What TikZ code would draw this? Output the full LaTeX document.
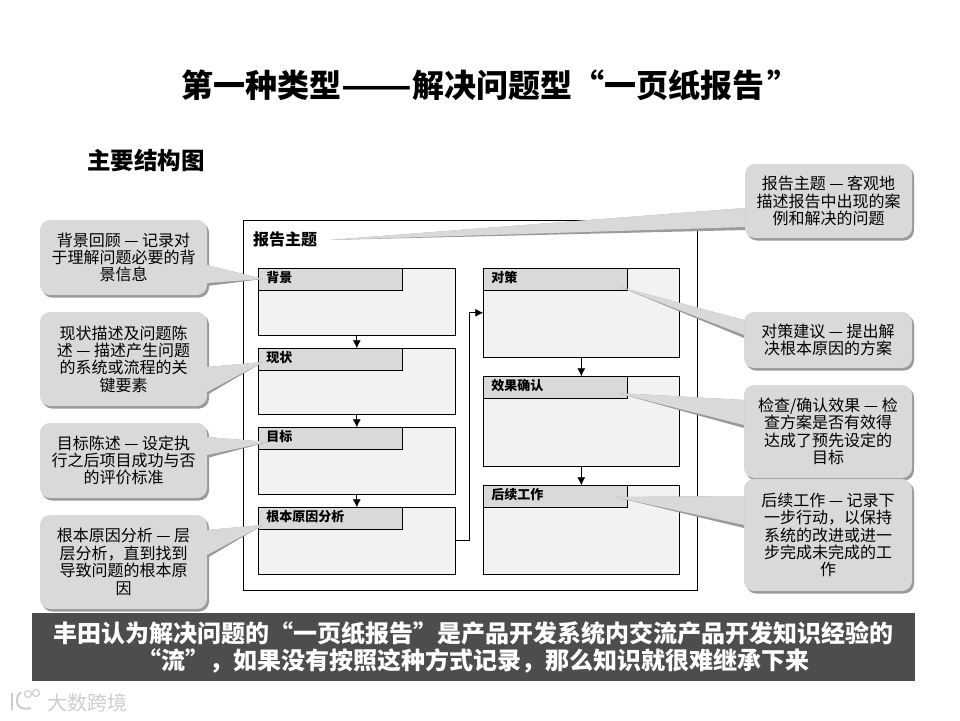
\documentclass[tikz,border=0pt]{standalone}
\usepackage{fontspec}
\setmainfont{Noto Sans CJK SC}
\usetikzlibrary{arrows.meta,positioning,shadows,calc}
\definecolor{notefill}{HTML}{D9D9D9}
\definecolor{notedark}{HTML}{9A9A9A}
\definecolor{boxfill}{HTML}{F2F2F2}
\definecolor{bannerfill}{HTML}{4D4D4D}
\definecolor{markgray}{HTML}{CDCDCD}
\newcommand{\notetail}[5]{%
  \fill[notedark] (#4) -- ($(#1.#5)+(0,#2)$) -- ($(#1.#5)+(0,#3+3)$) -- cycle;
  \fill[notefill] (#4) -- ($(#1.#5)+(0,#2)$) -- ($(#1.#5)+(0,#3)$) -- cycle;
}
\begin{document}
\begin{tikzpicture}[
  x=1pt, y=-1pt,
  frame/.style={draw=black, line width=0.8pt, minimum width=454pt, minimum height=370pt, outer sep=0pt, anchor=north west},
  stagebox/.style={draw=black, line width=0.8pt, fill=boxfill, minimum width=197pt, outer sep=0pt},
  head/.style={draw=black, line width=0.8pt, fill=notefill, minimum width=144.4pt, minimum height=21pt, outer sep=0pt, anchor=north west, inner xsep=8pt, text width=128.4pt, text depth=4pt, align=left, font=\fontsize{13}{14}\bfseries},
  note/.style={fill=notefill, rounded corners=10pt, minimum width=167pt, outer sep=0pt, inner sep=0pt, align=center, font=\fontsize{16}{17.4}\selectfont, drop shadow={shadow xshift=2pt, shadow yshift=-2.5pt, fill=notedark, opacity=1}},
  line/.style={-{Latex[length=8pt, width=8pt]}, line width=0.8pt, draw=black}
]
\useasboundingbox (0,0) rectangle (960,720);
\node[anchor=west, inner sep=0pt, font=\fontsize{32}{34}\bfseries] (title) at (181,85) {第一种类型\scalebox{1.29}[1]{——}解决问题型“一页纸报告\hspace{3pt}”};
\node[anchor=west, inner sep=0pt, font=\fontsize{23.5}{26}\bfseries] (subtitle) at (87,161) {主要结构图};

\node[frame] (report) at (243.5,220.5) {};
\node[anchor=west, inner sep=0pt, font=\fontsize{16}{18}\bfseries] (topic) at (253,239) {报告主题};

\node[stagebox, anchor=north west, minimum height=67pt] (bgbox) at (258.3,268.3) {};
\node[stagebox, below=13pt of bgbox, minimum height=66pt] (nowbox) {};
\node[stagebox, below=13pt of nowbox, minimum height=67pt] (goalbox) {};
\node[stagebox, below=13pt of goalbox, minimum height=67pt] (rootbox) {};
\node[stagebox, anchor=north west, minimum height=89pt, minimum width=196pt] (planbox) at (483.3,268.3) {};
\node[stagebox, below=19pt of planbox, minimum height=90pt, minimum width=196pt] (checkbox) {};
\node[stagebox, below=19pt of checkbox, minimum height=89pt, minimum width=196pt] (nextbox) {};

\node[head] (bghead) at (bgbox.north west) {背景};
\node[head] (nowhead) at (nowbox.north west) {现状};
\node[head] (goalhead) at (goalbox.north west) {目标};
\node[head] (roothead) at (rootbox.north west) {根本原因分析};
\node[head] (planhead) at (planbox.north west) {对策};
\node[head] (checkhead) at (checkbox.north west) {效果确认};
\node[head] (nexthead) at (nextbox.north west) {后续工作};

\draw[line] (bgbox) -- (nowbox);
\draw[line] (nowbox) -- (goalbox);
\draw[line] (goalbox) -- (rootbox);
\draw[line] (planbox) -- (checkbox);
\draw[line] (checkbox) -- (nextbox);
\draw[line] (rootbox.east) -- ++(14.5,0) |- (planbox.west);

\coordinate (bgtip) at (263,279);
\coordinate (nowtip) at (263,362);
\coordinate (goaltip) at (268,442);
\coordinate (roottip) at (263,525);
\coordinate (topictip) at (329,240);
\coordinate (plantip) at (620,287);
\coordinate (checktip) at (617,393);
\coordinate (nexttip) at (615,497);

\node[note, anchor=north west, minimum height=75pt] (bgnote) at (40,220) {背景回顾 — 记录对\\于理解问题必要的背\\景信息};
\node[note, below=17pt of bgnote, minimum height=94pt] (nownote) {现状描述及问题陈\\述 — 描述产生问题\\的系统或流程的关\\键要素};
\node[note, below=17pt of nownote, minimum height=75pt] (goalnote) {目标陈述 — 设定执\\行之后项目成功与否\\的评价标准};
\node[note, below=17pt of goalnote, minimum height=94pt] (rootnote) {根本原因分析 — 层\\层分析，直到找到\\导致问题的根本原\\因};
\node[note, anchor=north west, minimum height=74pt] (topicnote) at (745,164) {报告主题 — 客观地\\描述报告中出现的案\\例和解决的问题};
\node[note, anchor=north west, minimum height=56pt, minimum width=168pt] (plannote) at (744,312) {对策建议 — 提出解\\决根本原因的方案};
\node[note, below=17pt of plannote, minimum height=93pt, minimum width=168pt] (checknote) {检查/确认效果 — 检\\查方案是否有效得\\达成了预先设定的\\目标};

\notetail{bgnote}{45}{63}{bgtip}{north east}
\notetail{nownote}{55}{80}{nowtip}{north east}
\notetail{goalnote}{14}{32}{goaltip}{north east}
\notetail{rootnote}{15}{40}{roottip}{north east}
\notetail{topicnote}{44}{63}{topictip}{north west}
\notetail{plannote}{8}{23}{plantip}{north west}
\notetail{checknote}{15}{40}{checktip}{north west}

\node[note, below=1pt of checknote, minimum height=112pt, minimum width=168pt] (nextnote) {后续工作 — 记录下\\一步行动，以保持\\系统的改进或进一\\步完成未完成的工\\作};
\notetail{nextnote}{17}{46}{nexttip}{north west}

\node[fill=bannerfill, text=white, anchor=north west, minimum width=883pt, minimum height=68pt, inner sep=0pt, align=center, font=\fontsize{24}{27}\bfseries] (banner) at (32,613) {丰田认为解决问题的“一页纸报告”是产品开发系统内交流产品开发知识经验的\\“流”，如果没有按照这种方式记录，那么知识就很难继承下来};

\node[anchor=west, inner sep=0pt, text=markgray, font=\fontsize{20}{22}\selectfont] (mark) at (47,703) {大数跨境};
\draw[markgray, line width=2pt] (12,693) -- (12,710) (21,692) .. controls (14,698) and (15,712) .. (31,708);
\draw[markgray, line width=1.2pt] (28,694) circle (3.5pt) (36,693) circle (3.5pt);
\end{tikzpicture}
\end{document}
